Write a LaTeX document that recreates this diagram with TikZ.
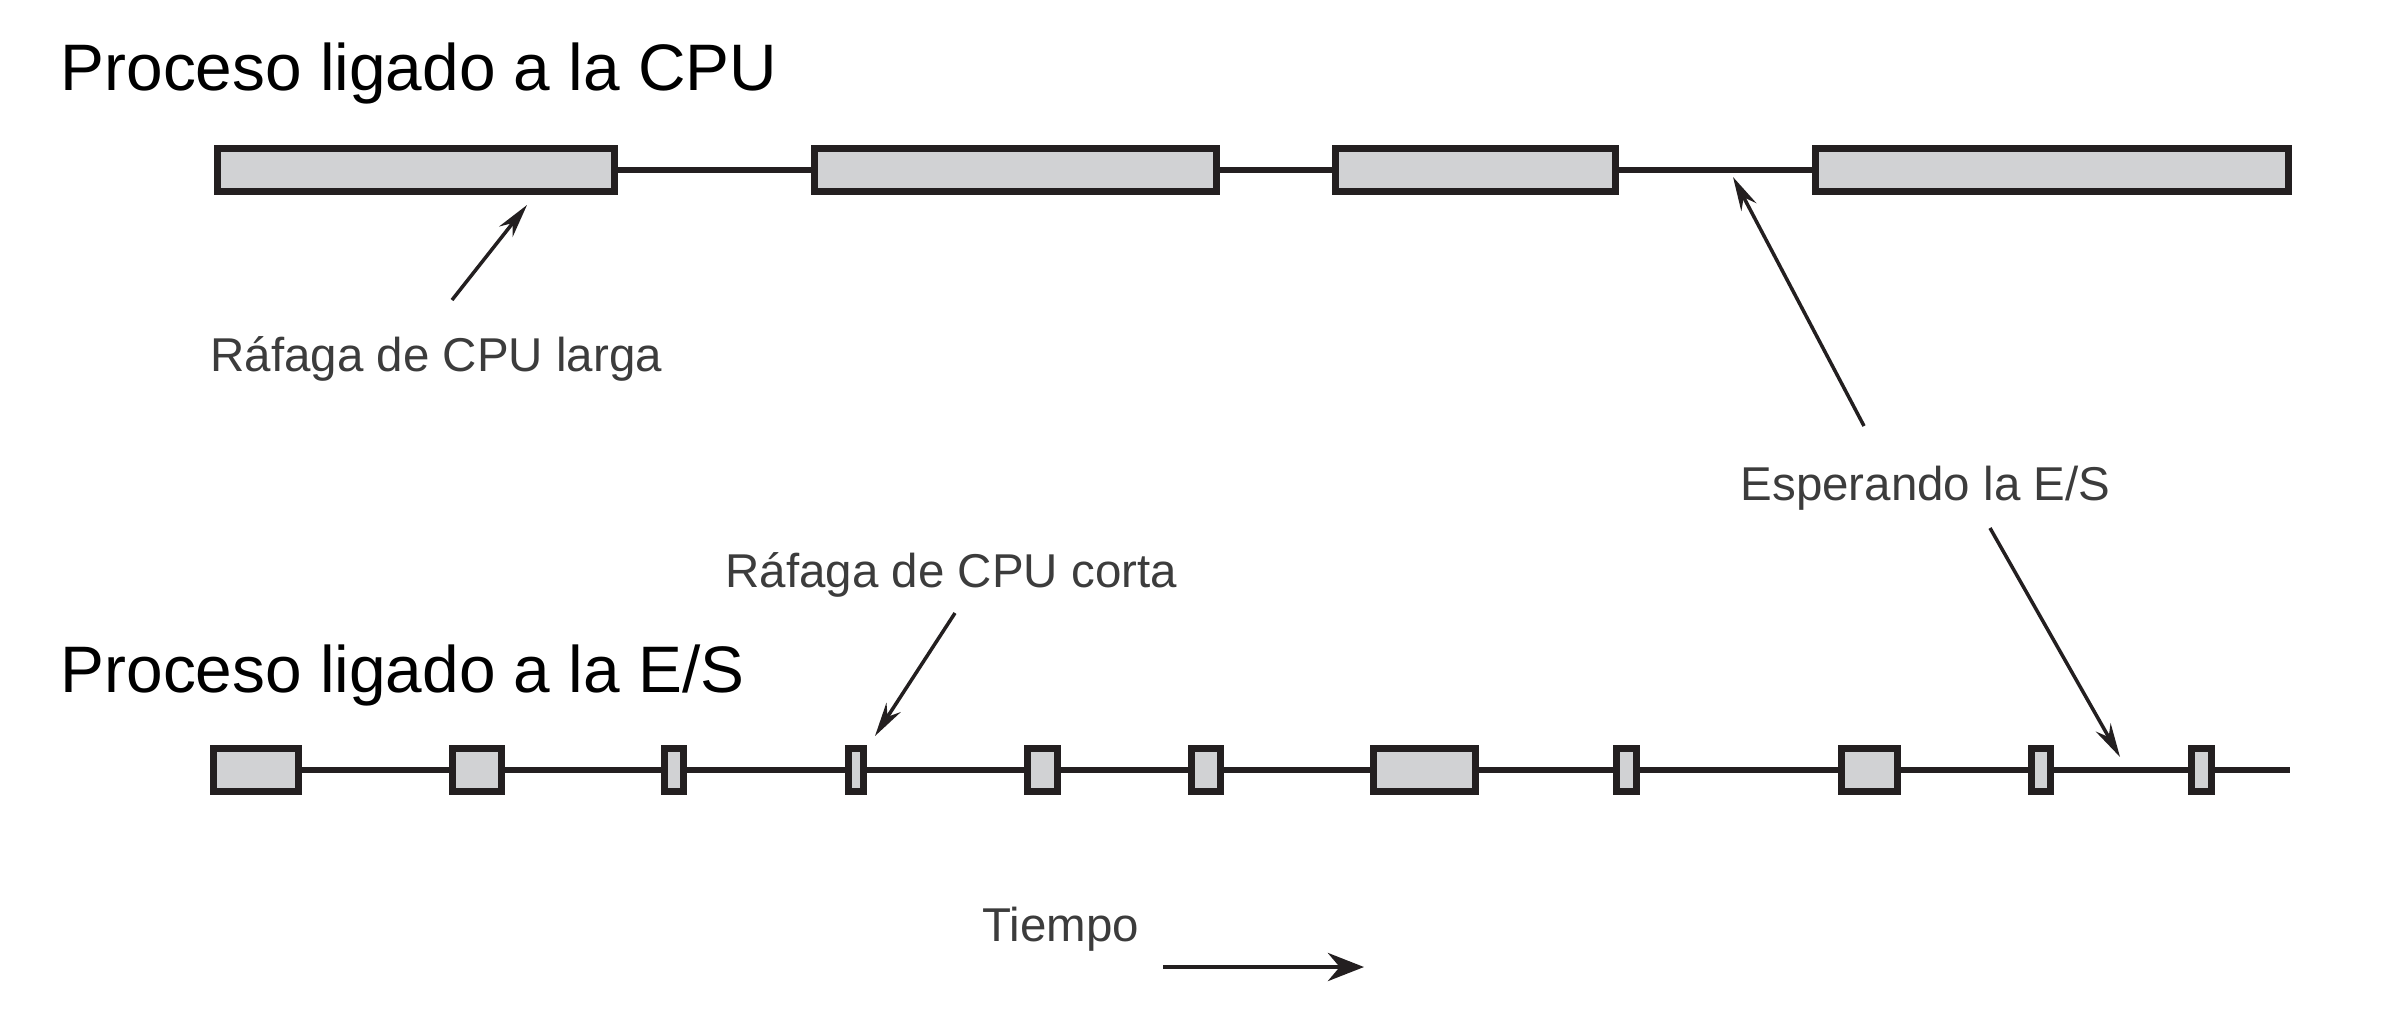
\documentclass[tikz,border=0pt]{standalone}
\usepackage{fontspec}
\setmainfont{Liberation Sans}
\usetikzlibrary{arrows.meta}

\definecolor{burstgray}{RGB}{209,210,212}
\definecolor{inkblack}{RGB}{35,31,32}
\definecolor{labelgray}{RGB}{60,60,60}

\tikzset{
  burst/.style    = {draw=inkblack, fill=burstgray, line width=1.9pt, rectangle, inner sep=0pt, minimum height=0.43cm},
  title/.style    = {font=\fontsize{18.7}{23}\selectfont, anchor=base west, inner sep=0pt},
  note/.style     = {font=\fontsize{13.5}{16}\selectfont, text=labelgray, anchor=base west, inner sep=0pt},
  timeline/.style = {draw=inkblack, line width=1.5pt},
  pointer/.style  = {draw=inkblack, line width=1pt, -{Stealth[length=0.34cm,width=0.17cm]}},
  timearrow/.style = {draw=inkblack, line width=1.4pt, -{Stealth[length=0.36cm,width=0.28cm]}}
}

\begin{document}
\begin{tikzpicture}[x=0.01cm, y=-0.01cm]
\useasboundingbox (0,0) rectangle (2388,1008);

% titles of both processes
\node[title] (tcpu) at (60,90) {Proceso ligado a la CPU};
\node[title] (tes) at (60,692) {Proceso ligado a la E/S};

% CPU bound process, long bursts
\foreach \name/\l/\r in {c1/214/618, c2/811/1220, c3/1332/1619, c4/1812/2292}
  \node[burst, minimum width=(\r-\l-7)*0.01cm] (\name) at ({(\l+\r)/2},170) {};

\foreach \a/\b in {c1/c2, c2/c3, c3/c4}
  \draw[timeline] (\a.east) -- (\b.west);

% I/O bound process, short bursts
\foreach \name/\l/\r in {e1/210/302, e2/449/505, e3/661/687, e4/845/867, e5/1024/1061,
    e6/1188/1224, e7/1370/1479, e8/1613/1640, e9/1838/1901, e10/2028/2054, e11/2188/2215}
  \node[burst, minimum width=(\r-\l-7)*0.01cm] (\name) at ({(\l+\r)/2},770) {};

\foreach \i [evaluate=\i as \j using int(\i+1)] in {1,...,10}
  \draw[timeline] (e\i.east) -- (e\j.west);

\coordinate (eend) at (2290,770);
\draw[timeline] (e11.east) -- (eend);

% labels
\node[note] (larga) at (210,371) {Ráfaga de CPU larga};
\node[note] (espera) at (1740,500) {Esperando la E/S};
\node[note] (corta) at (725,587) {Ráfaga de CPU corta};
\node[note] (tiempo) at (982,941) {Tiempo};

% pointers from the labels
\coordinate (larga-tail) at (452,300);
\coordinate (larga-tip) at (527,205);
\draw[pointer] (larga-tail) -- (larga-tip);

\coordinate (espera-up) at (1864,426);
\coordinate (espera-uptip) at (1733,177);
\draw[pointer] (espera-up) -- (espera-uptip);

\coordinate (espera-down) at (1990,528);
\coordinate (espera-downtip) at (2120,757);
\draw[pointer] (espera-down) -- (espera-downtip);

\coordinate (corta-tail) at (955,613);
\coordinate (corta-tip) at (875,736);
\draw[pointer] (corta-tail) -- (corta-tip);

% time axis
\coordinate (t1) at (1163,967);
\coordinate (t2) at (1364,967);
\draw[timearrow] (t1) -- (t2);
\end{tikzpicture}
\end{document}
